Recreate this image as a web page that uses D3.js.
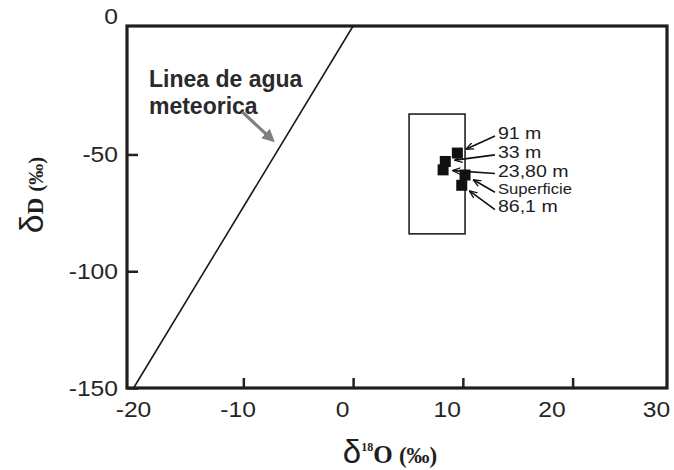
<!DOCTYPE html>
<html>
<head>
<meta charset="utf-8">
<script src="https://cdn.jsdelivr.net/npm/d3@7"></script>
<style>
  body { margin: 0; background: #fff; }
  svg { display: block; }
  .tick text { font-family: "Liberation Sans", Arial, sans-serif; fill: #262626; }
</style>
</head>
<body>
<div id="chart"></div>
<script>
// δ18O / δD values
var sampleNames = ["91 m", "33 m", "23,80 m", "Superficie", "86,1 m"];
var sampleO18 = [9.5, 8.4, 8.2, 10.2, 9.9];
var sampleD = [-49.4, -53.0, -56.6, -58.8, -63.2];
// where each label sits (data units)
var labelO18 = [13.2, 13.2, 13.2, 13.2, 13.2];
var labelD = [-40.8, -48.9, -56.9, -64.9, -72.3];

// range box around the samples
var boxO18 = [5.1, 10.2];
var boxD = [-84, -32.7];

// meteoric water line end points
var mwlO18 = [-20, 0.0];
var mwlD = [-150, 5];

var xTicks = [-10, 0, 10, 20];
var xTickLabels = [-20, -10, 0, 10, 20, 30];
var yTicks = [-50, -100, -150];
var yTickLabels = [0, -50, -100, -150];

var width = 674, height = 470;

var svg = d3.select("#chart").append("svg")
    .attr("width", width)
    .attr("height", height);

var x = d3.scaleLinear().domain([-20.6, 28.6]).range([127, 667]);
var y = d3.scaleLinear().domain([-150, 5]).range([388, 26]);
// the printed labels do not sit exactly under the ticks
var xLab = d3.scaleLinear().domain([-20, 30]).range([133, 656]);

var fmt = function(d) { return d < 0 ? "-" + Math.abs(d) : "" + d; };

// tick marks (inside)
svg.append("g")
    .attr("transform", "translate(0," + y.range()[0] + ")")
    .call(d3.axisBottom(x).tickValues(xTicks).tickSize(-10).tickFormat(""))
    .call(function(g) {
      g.select(".domain").remove();
      g.selectAll("line").attr("stroke", "#222").attr("stroke-width", 2.5);
    });

svg.append("g")
    .attr("transform", "translate(" + x.range()[0] + ",0)")
    .call(d3.axisLeft(y).tickValues(yTicks).tickSize(-11).tickFormat(""))
    .call(function(g) {
      g.select(".domain").remove();
      g.selectAll("line").attr("stroke", "#222").attr("stroke-width", 2.5);
    });

// tick labels
svg.append("g")
    .attr("transform", "translate(0," + y.range()[0] + ")")
    .call(d3.axisBottom(xLab).tickValues(xTickLabels).tickSize(0).tickPadding(13).tickFormat(fmt))
    .call(function(g) {
      g.select(".domain").remove();
      g.selectAll("text")
          .attr("font-size", 22)
          .attr("transform", "scale(1.12,1)");
    });

svg.append("g")
    .attr("transform", "translate(" + (x.range()[0] - 9) + ",0)")
    .call(d3.axisLeft(y).tickValues(yTickLabels).tickSize(0).tickPadding(0).tickFormat(fmt))
    .call(function(g) {
      g.select(".domain").remove();
      g.selectAll("text")
          .attr("font-size", 22)
          .attr("transform", "scale(1.12,1)");
      // the zero label sits above the corner
      g.selectAll(".tick").filter(function(d) { return d === 0; })
          .attr("transform", "translate(0," + (y.range()[1] - 9) + ")");
    });

// frame
svg.append("rect")
    .attr("x", x.range()[0])
    .attr("y", y.range()[1])
    .attr("width", x.range()[1] - x.range()[0])
    .attr("height", y.range()[0] - y.range()[1])
    .attr("fill", "none")
    .attr("stroke", "#1e1e1e")
    .attr("stroke-width", 3.2);

// meteoric water line
svg.append("line")
    .attr("x1", x(mwlO18[0])).attr("y1", y(mwlD[0]))
    .attr("x2", x(mwlO18[1])).attr("y2", y(mwlD[1]))
    .attr("stroke", "#1a1a1a")
    .attr("stroke-width", 1.6);

var defs = svg.append("defs");
defs.append("marker")
    .attr("id", "grayHead")
    .attr("viewBox", "0 0 10 10")
    .attr("refX", 8).attr("refY", 5)
    .attr("markerWidth", 4).attr("markerHeight", 4)
    .attr("orient", "auto")
    .append("path")
    .attr("d", "M0,0L10,5L0,10Z")
    .attr("fill", "#808080");

defs.append("marker")
    .attr("id", "smallHead")
    .attr("viewBox", "0 0 10 10")
    .attr("refX", 9).attr("refY", 5)
    .attr("markerWidth", 5).attr("markerHeight", 5)
    .attr("orient", "auto")
    .append("path")
    .attr("d", "M0,1L10,5L0,9")
    .attr("fill", "none")
    .attr("stroke", "#111")
    .attr("stroke-width", 1.6);

// annotation for meteoric line
var note = svg.append("text")
    .attr("font-family", "Liberation Sans, Arial, sans-serif")
    .attr("font-weight", "bold")
    .attr("font-size", 23)
    .attr("fill", "#2a2a2a");
note.append("tspan").attr("x", x(-18.6)).attr("y", y(-21.2)).text("Linea de agua");
note.append("tspan").attr("x", x(-18.6)).attr("y", y(-32.8)).text("meteorica");

svg.append("line")
    .attr("x1", x(-10.1)).attr("y1", y(-31.8))
    .attr("x2", x(-7.3)).attr("y2", y(-44))
    .attr("stroke", "#808080")
    .attr("stroke-width", 3.2)
    .attr("marker-end", "url(#grayHead)");

// range box
svg.append("rect")
    .attr("x", x(boxO18[0]))
    .attr("y", y(boxD[1]))
    .attr("width", x(boxO18[1]) - x(boxO18[0]))
    .attr("height", y(boxD[0]) - y(boxD[1]))
    .attr("fill", "none")
    .attr("stroke", "#222")
    .attr("stroke-width", 1.6);

// samples
var sq = 11;
svg.append("g").selectAll("rect")
    .data(sampleNames)
    .join("rect")
    .attr("x", function(d, i) { return x(sampleO18[i]) - sq / 2; })
    .attr("y", function(d, i) { return y(sampleD[i]) - sq / 2; })
    .attr("width", sq)
    .attr("height", sq)
    .attr("fill", "#111");

// leader lines
svg.append("g").selectAll("line")
    .data(sampleNames)
    .join("line")
    .each(function(d, i) {
      var lx = x(labelO18[i]) - 3, ly = y(labelD[i]) + 3;
      var px = x(sampleO18[i]), py = y(sampleD[i]);
      var dx = lx - px, dy = ly - py, len = Math.sqrt(dx * dx + dy * dy);
      var gap = 10;
      d3.select(this)
          .attr("x1", lx).attr("y1", ly)
          .attr("x2", px + dx / len * gap).attr("y2", py + dy / len * gap);
    })
    .attr("stroke", "#111")
    .attr("stroke-width", 1.6)
    .attr("marker-end", "url(#smallHead)");

// sample labels
svg.append("g").selectAll("text")
    .data(sampleNames)
    .join("text")
    .attr("transform", function(d, i) {
      return "translate(" + x(labelO18[i]) + "," + y(labelD[i]) + ") scale(1.15,1)";
    })
    .attr("dy", "0.35em")
    .attr("font-family", "Liberation Sans, Arial, sans-serif")
    .attr("font-size", function(d) { return d === "Superficie" ? 14.5 : 17; })
    .attr("fill", "#1e1e1e")
    .text(function(d) { return d; });

// axis titles
var xt = svg.append("text")
    .attr("x", 390)
    .attr("y", 463)
    .attr("text-anchor", "middle")
    .attr("fill", "#1e1e1e");
xt.append("tspan").attr("font-family", "Liberation Sans, sans-serif").attr("font-size", 33).text("δ");
xt.append("tspan").attr("font-family", "Liberation Serif, serif").attr("font-weight", "bold")
    .attr("font-size", 12).attr("dy", -12).text("18");
xt.append("tspan").attr("font-family", "Liberation Serif, serif").attr("font-weight", "bold")
    .attr("font-size", 25).attr("dy", 12).text("O ");
xt.append("tspan").attr("font-family", "Liberation Serif, serif").attr("font-weight", "bold")
    .attr("font-size", 23).text("(‰)");

var yt = svg.append("text")
    .attr("transform", "translate(43,195) rotate(-90)")
    .attr("text-anchor", "middle")
    .attr("fill", "#1e1e1e");
yt.append("tspan").attr("font-family", "Liberation Sans, sans-serif").attr("font-size", 34).text("δ");
yt.append("tspan").attr("font-family", "Liberation Serif, serif").attr("font-weight", "bold")
    .attr("font-size", 23).text("D ");
yt.append("tspan").attr("font-family", "Liberation Serif, serif").attr("font-weight", "bold")
    .attr("font-size", 21).text("(‰)");
</script>
</body>
</html>
